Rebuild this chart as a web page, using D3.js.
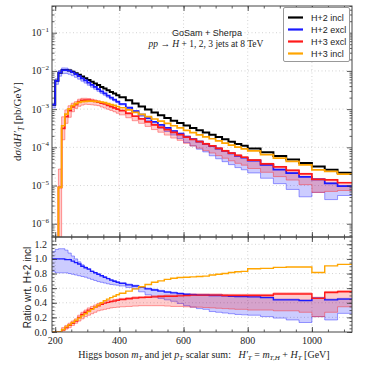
<!DOCTYPE html>
<html>
<head>
<meta charset="utf-8">
<script src="https://cdn.jsdelivr.net/npm/d3@7/dist/d3.min.js"></script>
<style>
body { margin: 0; background: #fff; }
</style>
</head>
<body>
<div id="chart"></div>
<script>
// bin edges in GeV (10 GeV up to 400, 20 up to 800, 40 above)
var edges = [190,200,210,220,230,240,250,260,270,280,290,300,310,320,330,340,350,360,370,380,390,400,
    420,440,460,480,500,520,540,560,580,600,620,640,660,680,700,720,740,760,780,800,
    840,880,920,960,1000,1040,1080,1125];

// H+2 incl, pb/GeV
var incl = [1.3e-3,5.5e-3,9.0e-3,1.05e-2,1.06e-2,1.02e-2,9.5e-3,8.7e-3,7.9e-3,7.1e-3,6.4e-3,5.75e-3,5.2e-3,4.7e-3,4.25e-3,3.8e-3,3.45e-3,3.1e-3,2.8e-3,2.55e-3,2.3e-3,
    2.05e-3,1.7e-3,1.4e-3,1.18e-3,9.8e-4,8.1e-4,6.9e-4,5.9e-4,5.0e-4,4.35e-4,3.7e-4,3.2e-4,2.8e-4,2.45e-4,2.15e-4,1.86e-4,1.62e-4,1.41e-4,1.23e-4,1.1e-4,
    9.3e-5,7.4e-5,5.9e-5,4.8e-5,3.9e-5,3.15e-5,2.6e-5,2.15e-5];

// ratios wrt H+2 incl
var excl2 = [1.00,1.00,1.00,1.00,0.99,0.99,0.97,0.95,0.93,0.90,0.88,0.86,0.83,0.81,0.79,0.77,0.75,0.73,0.71,0.695,0.68,
    0.665,0.645,0.63,0.61,0.59,0.575,0.56,0.545,0.535,0.525,0.515,0.51,0.505,0.505,0.50,0.50,0.495,0.49,0.485,0.485,
    0.48,0.47,0.44,0.44,0.43,0.46,0.44,0.45];
var excl2Hi = [1.10,1.13,1.14,1.14,1.12,1.08,1.04,1.00,0.96,0.92,0.89,0.865,0.835,0.815,0.795,0.775,0.755,0.735,0.715,0.70,0.685,
    0.675,0.655,0.64,0.62,0.60,0.585,0.57,0.555,0.545,0.535,0.525,0.52,0.515,0.515,0.51,0.51,0.505,0.50,0.495,0.495,
    0.49,0.48,0.45,0.45,0.44,0.47,0.45,0.46];
var excl2Lo = [0.83,0.81,0.81,0.81,0.81,0.80,0.79,0.78,0.77,0.76,0.75,0.735,0.72,0.705,0.69,0.68,0.67,0.66,0.65,0.645,0.64,
    0.63,0.61,0.59,0.55,0.51,0.48,0.46,0.44,0.42,0.39,0.36,0.34,0.32,0.31,0.28,0.27,0.26,0.25,0.24,0.235,
    0.23,0.21,0.19,0.165,0.13,0.21,0.165,0.255];

var excl3 = [0,0,0.001,0.03,0.06,0.09,0.12,0.15,0.20,0.24,0.27,0.30,0.32,0.34,0.36,0.38,0.395,0.405,0.415,0.425,0.435,
    0.445,0.455,0.465,0.47,0.475,0.48,0.485,0.49,0.49,0.495,0.50,0.505,0.505,0.505,0.505,0.505,0.50,0.50,0.50,0.50,
    0.50,0.50,0.52,0.52,0.52,0.46,0.54,0.55];
var excl3Hi = [0,0,0.003,0.06,0.09,0.12,0.15,0.18,0.23,0.27,0.30,0.33,0.35,0.37,0.39,0.405,0.42,0.43,0.435,0.445,0.45,
    0.46,0.47,0.48,0.485,0.49,0.495,0.50,0.505,0.505,0.51,0.515,0.52,0.52,0.52,0.52,0.52,0.515,0.515,0.515,0.515,
    0.515,0.515,0.535,0.535,0.535,0.475,0.555,0.565];
var excl3Lo = [0,0,0,0.015,0.04,0.06,0.09,0.12,0.15,0.18,0.21,0.23,0.25,0.27,0.29,0.30,0.31,0.32,0.33,0.335,0.34,
    0.345,0.35,0.355,0.36,0.36,0.36,0.36,0.355,0.35,0.35,0.345,0.34,0.34,0.335,0.33,0.325,0.32,0.315,0.31,0.31,
    0.30,0.30,0.29,0.29,0.27,0.21,0.27,0.345];

var incl3 = [0,0,0.001,0.035,0.07,0.10,0.13,0.16,0.19,0.22,0.25,0.28,0.31,0.34,0.37,0.40,0.43,0.45,0.47,0.49,0.51,
    0.53,0.56,0.59,0.62,0.65,0.68,0.70,0.72,0.735,0.745,0.75,0.755,0.76,0.765,0.78,0.79,0.80,0.815,0.825,0.83,
    0.865,0.87,0.885,0.89,0.89,0.815,0.905,0.925];

var xTicks = [200,400,600,800,1000];
var logTicks = [1e-1,1e-2,1e-3,1e-4,1e-5,1e-6];
var ratioTicks = [0,0.2,0.4,0.6,0.8,1.0,1.2];
var legendNames = ["H+2 incl","H+2 excl","H+3 excl","H+3 incl"];
var legendColors = ["#000000","#1a1aff","#ff1a1a","#ffa500"];

var W = 365, H = 365;
var L = 52, R = 352, T = 6, M = 237, B = 332;
var serif = "'Liberation Serif', 'DejaVu Serif', serif";
var sans = "'Liberation Sans', Arial, sans-serif";

var svg = d3.select("#chart").append("svg")
    .attr("width", W)
    .attr("height", H);

var x = d3.scaleLinear().domain([190, 1125]).range([L, R]);
var yMain = d3.scaleLog().domain([4.5e-7, 0.5]).range([M, T]);
var yRat = d3.scaleLinear().domain([0, 1.3]).range([B, M]);

var defs = svg.append("defs");
defs.append("clipPath").attr("id", "clipMain")
    .append("rect").attr("x", L).attr("y", T).attr("width", R - L).attr("height", M - T);
defs.append("clipPath").attr("id", "clipRat")
    .append("rect").attr("x", L).attr("y", M).attr("width", R - L).attr("height", B - M);

// grids
var grid = svg.append("g").attr("stroke", "#c8c8c8").attr("stroke-width", 0.8).attr("stroke-dasharray", "1,2.5");
grid.selectAll(".gxm").data(xTicks).enter().append("line")
    .attr("x1", d => x(d)).attr("x2", d => x(d)).attr("y1", T).attr("y2", M);
grid.selectAll(".gxr").data(xTicks).enter().append("line")
    .attr("x1", d => x(d)).attr("x2", d => x(d)).attr("y1", M).attr("y2", B);
grid.selectAll(".gy").data(logTicks).enter().append("line")
    .attr("x1", L).attr("x2", R).attr("y1", d => yMain(d)).attr("y2", d => yMain(d));
grid.selectAll(".gr").data(ratioTicks.slice(1)).enter().append("line")
    .attr("x1", L).attr("x2", R).attr("y1", d => yRat(d)).attr("y2", d => yRat(d));

function pts(vals) {
    var p = vals.map((v, i) => [edges[i], v]);
    p.push([edges[edges.length - 1], vals[vals.length - 1]]);
    return p;
}
function bandPts(lo, hi) {
    var p = lo.map((v, i) => [edges[i], lo[i], hi[i]]);
    p.push([edges[edges.length - 1], lo[lo.length - 1], hi[hi.length - 1]]);
    return p;
}
function times(r) { return r.map((v, i) => v * incl[i]); }

var ym = v => yMain(Math.max(v, 1e-12));
var lineMain = d3.line().x(d => x(d[0])).y(d => ym(d[1])).curve(d3.curveStepAfter);
var areaMain = d3.area().x(d => x(d[0])).y0(d => ym(d[1])).y1(d => ym(d[2])).curve(d3.curveStepAfter);
var lineRat = d3.line().x(d => x(d[0])).y(d => yRat(d[1])).curve(d3.curveStepAfter);
var areaRat = d3.area().x(d => x(d[0])).y0(d => yRat(d[1])).y1(d => yRat(d[2])).curve(d3.curveStepAfter);
var lineRatLo = d3.line().x(d => x(d[0])).y(d => yRat(d[1])).curve(d3.curveStepAfter);
var lineRatHi = d3.line().x(d => x(d[0])).y(d => yRat(d[2])).curve(d3.curveStepAfter);
var lineMainLo = d3.line().x(d => x(d[0])).y(d => ym(d[1])).curve(d3.curveStepAfter);
var lineMainHi = d3.line().x(d => x(d[0])).y(d => ym(d[2])).curve(d3.curveStepAfter);

var bands = [
    {lo: excl2Lo, hi: excl2Hi, fill: "rgba(0,0,255,0.2)", edge: "rgba(40,40,255,0.45)"},
    {lo: excl3Lo, hi: excl3Hi, fill: "rgba(255,0,0,0.2)", edge: "rgba(255,40,40,0.45)"}
];

// main panel
var gMain = svg.append("g").attr("clip-path", "url(#clipMain)");
bands.forEach(function(b) {
    var bp = bandPts(times(b.lo), times(b.hi));
    gMain.append("path").attr("d", areaMain(bp)).attr("fill", b.fill);
    gMain.append("path").attr("d", lineMainLo(bp)).attr("fill", "none").attr("stroke", b.edge).attr("stroke-width", 1);
    gMain.append("path").attr("d", lineMainHi(bp)).attr("fill", "none").attr("stroke", b.edge).attr("stroke-width", 1);
});
[incl, times(excl2), times(excl3), times(incl3)].forEach(function(s, i) {
    gMain.append("path").attr("d", lineMain(pts(s)))
        .attr("fill", "none").attr("stroke", legendColors[i])
        .attr("stroke-width", i == 0 ? 2 : 1.7);
});

// ratio panel
var gRat = svg.append("g").attr("clip-path", "url(#clipRat)");
bands.forEach(function(b) {
    var bp = bandPts(b.lo, b.hi);
    gRat.append("path").attr("d", areaRat(bp)).attr("fill", b.fill);
    gRat.append("path").attr("d", lineRatLo(bp)).attr("fill", "none").attr("stroke", b.edge).attr("stroke-width", 1);
    gRat.append("path").attr("d", lineRatHi(bp)).attr("fill", "none").attr("stroke", b.edge).attr("stroke-width", 1);
});
[excl2, excl3, incl3].forEach(function(s, i) {
    gRat.append("path").attr("d", lineRat(pts(s)))
        .attr("fill", "none").attr("stroke", legendColors[i + 1])
        .attr("stroke-width", 1.4);
});

// axes: ticks pointing inwards on every side
var xMinor = d3.range(200, 1125, 50);
var logMinor = yMain.ticks().filter(d => logTicks.indexOf(d) < 0);
var ratMinor = d3.range(0, 1.3, 0.05);

function tickAxis(axisFn, scale, vals, size, tx, ty) {
    var g = svg.append("g")
        .attr("transform", "translate(" + tx + "," + ty + ")")
        .call(axisFn(scale).tickValues(vals).tickSize(size).tickSizeOuter(0).tickFormat(""));
    g.select(".domain").remove();
    g.selectAll("line").attr("stroke", "#333").attr("stroke-width", 0.8);
}
// main panel
tickAxis(d3.axisLeft, yMain, logTicks, -5, L, 0);
tickAxis(d3.axisLeft, yMain, logMinor, -2.5, L, 0);
tickAxis(d3.axisRight, yMain, logTicks, -5, R, 0);
tickAxis(d3.axisRight, yMain, logMinor, -2.5, R, 0);
tickAxis(d3.axisTop, x, xTicks, -5, 0, T);
tickAxis(d3.axisTop, x, xMinor, -2.5, 0, T);
tickAxis(d3.axisBottom, x, xTicks, -5, 0, M);
tickAxis(d3.axisBottom, x, xMinor, -2.5, 0, M);
// ratio panel
tickAxis(d3.axisLeft, yRat, ratioTicks, -5, L, 0);
tickAxis(d3.axisLeft, yRat, ratMinor, -2.5, L, 0);
tickAxis(d3.axisRight, yRat, ratioTicks, -5, R, 0);
tickAxis(d3.axisRight, yRat, ratMinor, -2.5, R, 0);
tickAxis(d3.axisTop, x, xTicks, -5, 0, M);
tickAxis(d3.axisTop, x, xMinor, -2.5, 0, M);
tickAxis(d3.axisBottom, x, xTicks, -5, 0, B);
tickAxis(d3.axisBottom, x, xMinor, -2.5, 0, B);

// frames
svg.append("rect").attr("x", L).attr("y", T).attr("width", R - L).attr("height", M - T)
    .attr("fill", "none").attr("stroke", "#444").attr("stroke-width", 1);
svg.append("rect").attr("x", L).attr("y", M).attr("width", R - L).attr("height", B - M)
    .attr("fill", "none").attr("stroke", "#444").attr("stroke-width", 1);

// tick labels
var labs = svg.append("g").style("font-family", serif).attr("fill", "#222");
labs.selectAll(".ly").data(logTicks).enter().append("text")
    .attr("x", 49).attr("y", d => yMain(d) + 3.5)
    .attr("text-anchor", "end")
    .each(function(d) {
        var t = d3.select(this);
        t.append("tspan").style("font-size", "10px").text("10");
        t.append("tspan").style("font-size", "7px").attr("dy", -4.5)
            .text("\u2212" + Math.round(-Math.log10(d)));
    });
labs.selectAll(".lr").data(ratioTicks).enter().append("text")
    .attr("x", 47).attr("y", d => yRat(d) + 3.5)
    .attr("text-anchor", "end").style("font-size", "10px")
    .text(d => d.toFixed(1));
labs.selectAll(".lx").data(xTicks).enter().append("text")
    .attr("x", d => x(d)).attr("y", 344)
    .attr("text-anchor", "middle").style("font-size", "10px")
    .text(d => d);

// axis titles
var yt = svg.append("text")
    .attr("transform", "translate(21," + ((T + M) / 2) + ") rotate(-90)")
    .attr("text-anchor", "middle")
    .style("font-family", serif).style("font-size", "11px").attr("fill", "#222");
yt.append("tspan").text("d");
yt.append("tspan").style("font-style", "italic").text("\u03c3");
yt.append("tspan").text("/d");
yt.append("tspan").style("font-style", "italic").text("H\u2032");
yt.append("tspan").style("font-style", "italic").style("font-size", "7.5px").attr("dy", 2.5).text("T");
yt.append("tspan").attr("dy", -2.5).text(" [pb/GeV]");

svg.append("text")
    .attr("transform", "translate(31," + ((M + B) / 2 + 3) + ") rotate(-90)")
    .attr("text-anchor", "middle")
    .style("font-family", sans).style("font-size", "10px").attr("fill", "#222")
    .text("Ratio wrt. H+2 incl");

var xt = svg.append("text")
    .attr("x", 204).attr("y", 358)
    .attr("text-anchor", "middle")
    .style("font-family", serif).style("font-size", "10px").attr("fill", "#222");
xt.append("tspan").text("Higgs boson ");
xt.append("tspan").style("font-style", "italic").text("m");
xt.append("tspan").style("font-style", "italic").style("font-size", "7px").attr("dy", 2).text("T");
xt.append("tspan").attr("dy", -2).text(" and jet ");
xt.append("tspan").style("font-style", "italic").text("p");
xt.append("tspan").style("font-style", "italic").style("font-size", "7px").attr("dy", 2).text("T");
xt.append("tspan").attr("dy", -2).text(" scalar sum:\u2002 ");
xt.append("tspan").style("font-style", "italic").text("H\u2032");
xt.append("tspan").style("font-style", "italic").style("font-size", "7px").attr("dy", 2).text("T");
xt.append("tspan").attr("dy", -2).text(" = ");
xt.append("tspan").style("font-style", "italic").text("m");
xt.append("tspan").style("font-style", "italic").style("font-size", "7px").attr("dy", 2).text("T,H");
xt.append("tspan").attr("dy", -2).text(" + ");
xt.append("tspan").style("font-style", "italic").text("H");
xt.append("tspan").style("font-style", "italic").style("font-size", "7px").attr("dy", 2).text("T");
xt.append("tspan").attr("dy", -2).text(" [GeV]");

// annotation
svg.append("text")
    .attr("x", 207).attr("y", 36)
    .attr("text-anchor", "middle")
    .style("font-family", sans).style("font-size", "9px").attr("fill", "#222")
    .text("GoSam + Sherpa");
var ann = svg.append("text")
    .attr("x", 206).attr("y", 47)
    .attr("text-anchor", "middle")
    .style("font-family", serif).style("font-size", "9.5px").attr("fill", "#222");
ann.append("tspan").style("font-style", "italic").text("pp");
ann.append("tspan").text(" \u2192 ");
ann.append("tspan").style("font-style", "italic").text("H");
ann.append("tspan").text(" + 1, 2, 3 jets at 8 TeV");

// legend
var leg = svg.append("g");
leg.append("rect").attr("x", 283.5).attr("y", 7.5).attr("width", 66).attr("height", 54)
    .attr("rx", 1.5).attr("fill", "#fff").attr("stroke", "#999").attr("stroke-width", 1);
legendNames.forEach(function(n, i) {
    var yy = 17.5 + i * 12;
    leg.append("line").attr("x1", 288).attr("x2", 303).attr("y1", yy).attr("y2", yy)
        .attr("stroke", legendColors[i]).attr("stroke-width", 2.2);
    leg.append("text").attr("x", 311).attr("y", yy + 3.3)
        .style("font-family", sans).style("font-size", "9px").attr("fill", "#222")
        .text(n);
});
</script>
</body>
</html>
